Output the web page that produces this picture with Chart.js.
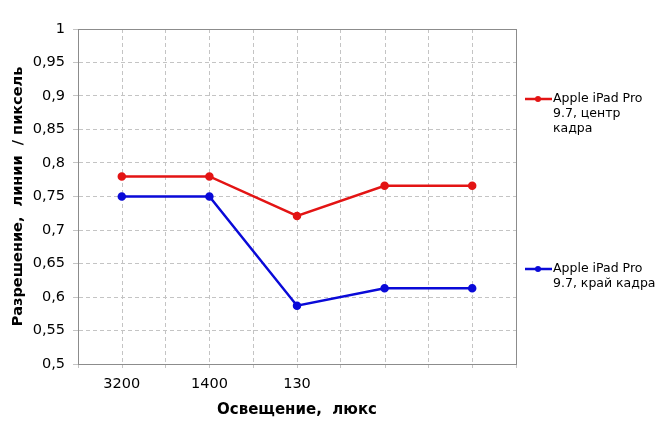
<!DOCTYPE html>
<html>
<head>
<meta charset="utf-8">
<script src="https://cdn.jsdelivr.net/npm/chart.js@4"></script>
<style>
  html, body { margin: 0; padding: 0; background: #fff; }
  #wrap { width: 662px; height: 441px; }
</style>
</head>
<body>
<div id="wrap"><canvas id="grafico"></canvas></div>
<script>
// dados do gráfico
const categorias = ["3200", "1400", "130", "", ""];
const centroQuadro = [0.78, 0.78, 0.721, 0.766, 0.766];
const bordaQuadro = [0.75, 0.75, 0.587, 0.613, 0.613];
const nomesSeries = [
  ["Apple iPad Pro", "9.7, центр", "кадра"],
  ["Apple iPad Pro", "9.7, край кадра"]
];
const coresSeries = ["#e31414", "#0a0ad8"];

const fonte = "'DejaVu Sans', Verdana, sans-serif";

// moldura da área, linhas de grade no centro das categorias e legenda à direita
const extras = {
  id: "extras",
  beforeDatasetsDraw(chart) {
    const ctx = chart.ctx, a = chart.chartArea, x = chart.scales.x;
    ctx.save();
    ctx.strokeStyle = "#c4c4c4";
    ctx.lineWidth = 1;
    ctx.setLineDash([4, 3]);
    for (let i = 0; i < categorias.length; i++) {
      const px = Math.round(x.getPixelForTick(i)) + 0.5;
      ctx.beginPath();
      ctx.moveTo(px, a.top);
      ctx.lineTo(px, a.bottom + 4);
      ctx.stroke();
    }
    ctx.setLineDash([]);
    ctx.strokeStyle = "#8c8c8c";
    ctx.strokeRect(Math.round(a.left) + 0.5, Math.round(a.top) + 0.5,
      Math.round(a.right - a.left), Math.round(a.bottom - a.top));
    ctx.restore();
  },
  afterDraw(chart) {
    const ctx = chart.ctx;
    const posY = [99, 269];
    ctx.save();
    ctx.font = "12.5px " + fonte;
    ctx.textBaseline = "middle";
    ctx.textAlign = "left";
    nomesSeries.forEach((linhas, i) => {
      const y = posY[i];
      ctx.strokeStyle = coresSeries[i];
      ctx.fillStyle = coresSeries[i];
      ctx.lineWidth = 2.5;
      ctx.beginPath();
      ctx.moveTo(525, y);
      ctx.lineTo(552, y);
      ctx.stroke();
      ctx.beginPath();
      ctx.arc(538, y, 3, 0, Math.PI * 2);
      ctx.fill();
      ctx.fillStyle = "#000";
      linhas.forEach((t, j) => ctx.fillText(t, 553, y + j * 15));
    });
    ctx.restore();
  }
};

const config = {
  type: "line",
  data: {
    labels: categorias,
    datasets: [
      {
        label: nomesSeries[0].join(" "),
        data: centroQuadro,
        borderColor: coresSeries[0],
        backgroundColor: coresSeries[0],
        borderWidth: 2.5,
        pointRadius: 3,
        tension: 0
      },
      {
        label: nomesSeries[1].join(" "),
        data: bordaQuadro,
        borderColor: coresSeries[1],
        backgroundColor: coresSeries[1],
        borderWidth: 2.5,
        pointRadius: 3,
        tension: 0
      }
    ]
  },
  options: {
    maintainAspectRatio: false,
    responsive: true,
    animation: false,
    layout: { padding: { left: 0, right: 146, top: 29, bottom: 0 } },
    plugins: {
      legend: { display: false },
      tooltip: { enabled: false }
    },
    scales: {
      x: {
        offset: true,
        grid: {
          offset: true,
          color: "#c4c4c4",
          tickLength: 4,
          drawOnChartArea: true
        },
        border: { display: true, color: "#8c8c8c", dash: [4, 3] },
        ticks: {
          color: "#000",
          padding: 8,
          font: { family: fonte, size: 14.5 }
        },
        title: {
          display: true,
          text: "Освещение,  люкс",
          color: "#000",
          font: { family: fonte, size: 15, weight: "bold" },
          padding: { top: 6, bottom: 22 }
        },
        afterFit(s) { s.height = 77; }
      },
      y: {
        min: 0.5,
        max: 1,
        grid: { color: "#c4c4c4", tickLength: 5 },
        border: { color: "#8c8c8c", dash: [4, 3] },
        ticks: {
          stepSize: 0.05,
          color: "#000",
          padding: 8,
          font: { family: fonte, size: 14.5 },
          callback: v => String(Math.round(v * 100) / 100).replace(".", ",")
        },
        title: {
          display: true,
          text: "Разрешение,  линии  / пиксель",
          color: "#000",
          font: { family: fonte, size: 14.5, weight: "bold" },
          padding: { top: 10, bottom: 0 }
        },
        afterFit(s) { s.width = 78; }
      }
    }
  },
  plugins: [extras]
};

new Chart(document.getElementById("grafico"), config);
</script>
</body>
</html>
